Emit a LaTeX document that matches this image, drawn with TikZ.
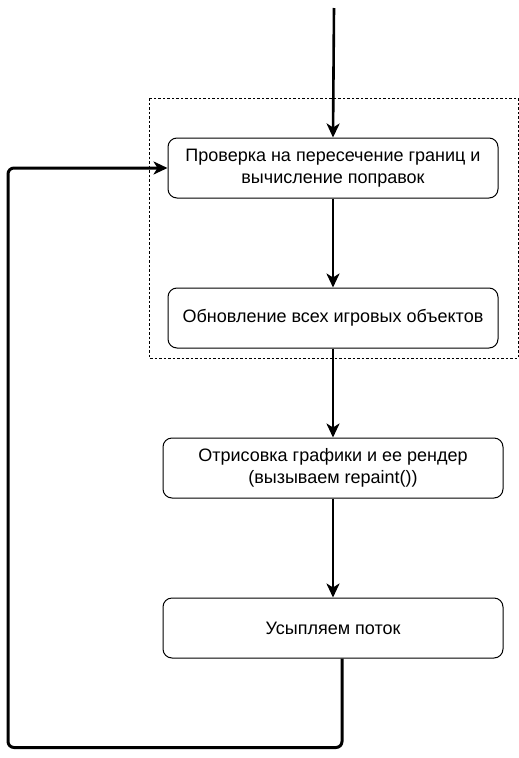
\documentclass[tikz,border=0pt]{standalone}
\usepackage{fontspec}
\setmainfont{Liberation Sans}
\usetikzlibrary{arrows.meta}

\tikzset{
  stage/.style={draw, line width=1pt, rounded corners=9pt, minimum height=60pt, align=center,
    font=\fontsize{18}{22}\selectfont, inner sep=0pt},
  flow/.style={line width=2.6pt, -{Stealth[length=14pt,width=13pt,inset=4pt]}},
  back/.style={line width=3pt, rounded corners=6pt, -{Stealth[length=14pt,width=13pt,inset=4pt]}}
}

\begin{document}
\begin{tikzpicture}[x=1pt,y=-1pt]
\useasboundingbox (0,0) rectangle (519,758);
\draw[dashed, line width=0.6pt, dash pattern=on 2.5pt off 2pt] (149,98) rectangle (518,358);
\coordinate (start) at (334,8);
\node[stage, minimum width=330pt] (check) at (333,168) {Проверка на пересечение границ и\\вычисление поправок};
\node[stage, minimum width=330pt] (update) at (333,318) {Обновление всех игровых объектов};
\node[stage, minimum width=340pt] (render) at (333,468) {Отрисовка графики и ее рендер\\(вызываем repaint())};
\node[stage, minimum width=340pt] (sleep) at (333,628) {Усыпляем поток};
\draw[flow] (start) -- (check.north);
\draw[flow] (check) -- (update);
\draw[flow] (update) -- (render);
\draw[flow] (render) -- (sleep);
\draw[back] (sleep.south) ++(9,0) -- ++(0,89) -| (8,168) -- (check.west);
\end{tikzpicture}
\end{document}
